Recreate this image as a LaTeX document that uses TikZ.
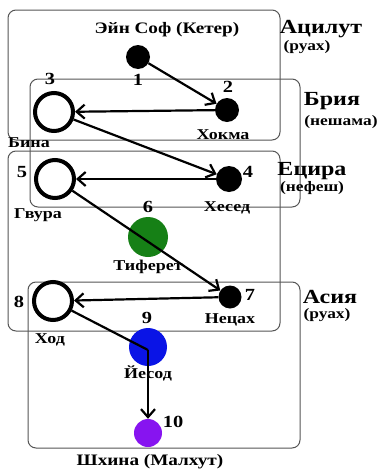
\documentclass[tikz,border=0pt]{standalone}
\usepackage{fontspec}
\setmainfont{Liberation Serif}[FakeStretch=1.2]
\usetikzlibrary{arrows.meta}
\definecolor{boxgray}{RGB}{85,85,85}
\definecolor{sgreen}{RGB}{22,128,22}
\definecolor{sblue}{RGB}{10,20,230}
\definecolor{spurple}{RGB}{135,20,240}
\tikzset{
  world/.style={draw=boxgray, line width=1pt, rounded corners=8pt},
  dotnode/.style={circle, fill=black, inner sep=0pt, minimum size=24pt},
  ringnode/.style={circle, draw=black, line width=4pt, inner sep=0pt, minimum size=38pt},
  colnode/.style={circle, inner sep=0pt},
  arr/.style={line width=2.2pt, -{Straight Barb[length=8pt,width=14pt]}},
  lbl/.style={font=\bfseries\fontsize{15}{17}\selectfont, inner sep=0pt},
  num/.style={font=\bfseries\fontsize{17}{19}\selectfont, inner sep=0pt},
  wname/.style={font=\bfseries\fontsize{20}{22}\selectfont, inner sep=0pt},
  wsub/.style={font=\bfseries\fontsize{14.5}{16}\selectfont, inner sep=0pt},
  ttl/.style={font=\bfseries\fontsize{16}{18}\selectfont, inner sep=0pt}
}
\begin{document}
\begin{tikzpicture}[x=1pt,y=-1pt]
\useasboundingbox[fill=white] (0,0) rectangle (379,469);
% worlds
\draw[world] (8,10) rectangle (280,140);
\draw[world] (30,79) rectangle (300,207);
\draw[world] (8,151) rectangle (280,331);
\draw[world] (28,282) rectangle (300,448);
% sefirot
\node[dotnode] (n1) at (138,57) {};
\node[dotnode] (n2) at (227,110) {};
\node[ringnode] (n3) at (54,112) {};
\node[dotnode, minimum size=26pt] (n4) at (229,179) {};
\node[ringnode] (n5) at (55,179) {};
\node[colnode, fill=sgreen, minimum size=40pt] (n6) at (148,237) {};
\node[dotnode, minimum size=23pt] (n7) at (230,297) {};
\node[ringnode] (n8) at (53,301) {};
\node[colnode, fill=sblue, minimum size=38pt] (n9) at (148,347) {};
\node[colnode, fill=spurple, minimum size=28pt] (n10) at (148,433) {};
\coordinate (j) at (148,350);
% connectors
\draw[arr] (n1) -- (n2);
\draw[arr] (n2) -- (n3);
\draw[arr] (n3) -- (n4);
\draw[arr] (n4) -- (n5);
\draw[arr] (n5) -- (n7);
\draw[arr] (n7) -- (n8);
\draw[line width=2.2pt] (n8) -- (j);
\draw[arr] (j) -- (n10);
% numbers
\node[num] (t1) at (138,80) {1};
\node[num] (t2) at (228,87) {2};
\node[num] (t3) at (50,79) {3};
\node[num] (t4) at (248,172) {4};
\node[num] (t5) at (22,172) {5};
\node[num] (t6) at (148,207) {6};
\node[num] (t7) at (250,295) {7};
\node[num] (t8) at (19,302) {8};
\node[num] (t9) at (147,318) {9};
\node[num] (t10) at (173,422) {10};
% names
\node[ttl] (keter) at (167,30) {Эйн Соф (Кетер)};
\node[lbl] (l2) at (223,135) {Хокма};
\node[lbl] (l3) at (29,143) {Бина};
\node[lbl] (l4) at (227,208) {Хесед};
\node[lbl] (l5) at (38,215) {Гвура};
\node[lbl] (l6) at (148,267) {Тиферет};
\node[lbl] (l7) at (230,320) {Нецах};
\node[lbl] (l8) at (50,340) {Ход};
\node[lbl] (l9) at (148,373) {Йесод};
\node[ttl] (malkhut) at (150,462) {Шхина (Малхут)};
% worlds' names
\node[wname] (w1) at (321,29) {Ацилут};
\node[wsub] (s1) at (307,47) {(руах)};
\node[wname] (w2) at (332,101) {Брия};
\node[wsub] (s2) at (341,122) {(нешама)};
\node[wname] (w3) at (312,171) {Ецира};
\node[wsub] (s3) at (312,188) {(нефеш)};
\node[wname] (w4) at (330,297) {Асия};
\node[wsub] (s4) at (327,315) {(руах)};
\end{tikzpicture}
\end{document}
